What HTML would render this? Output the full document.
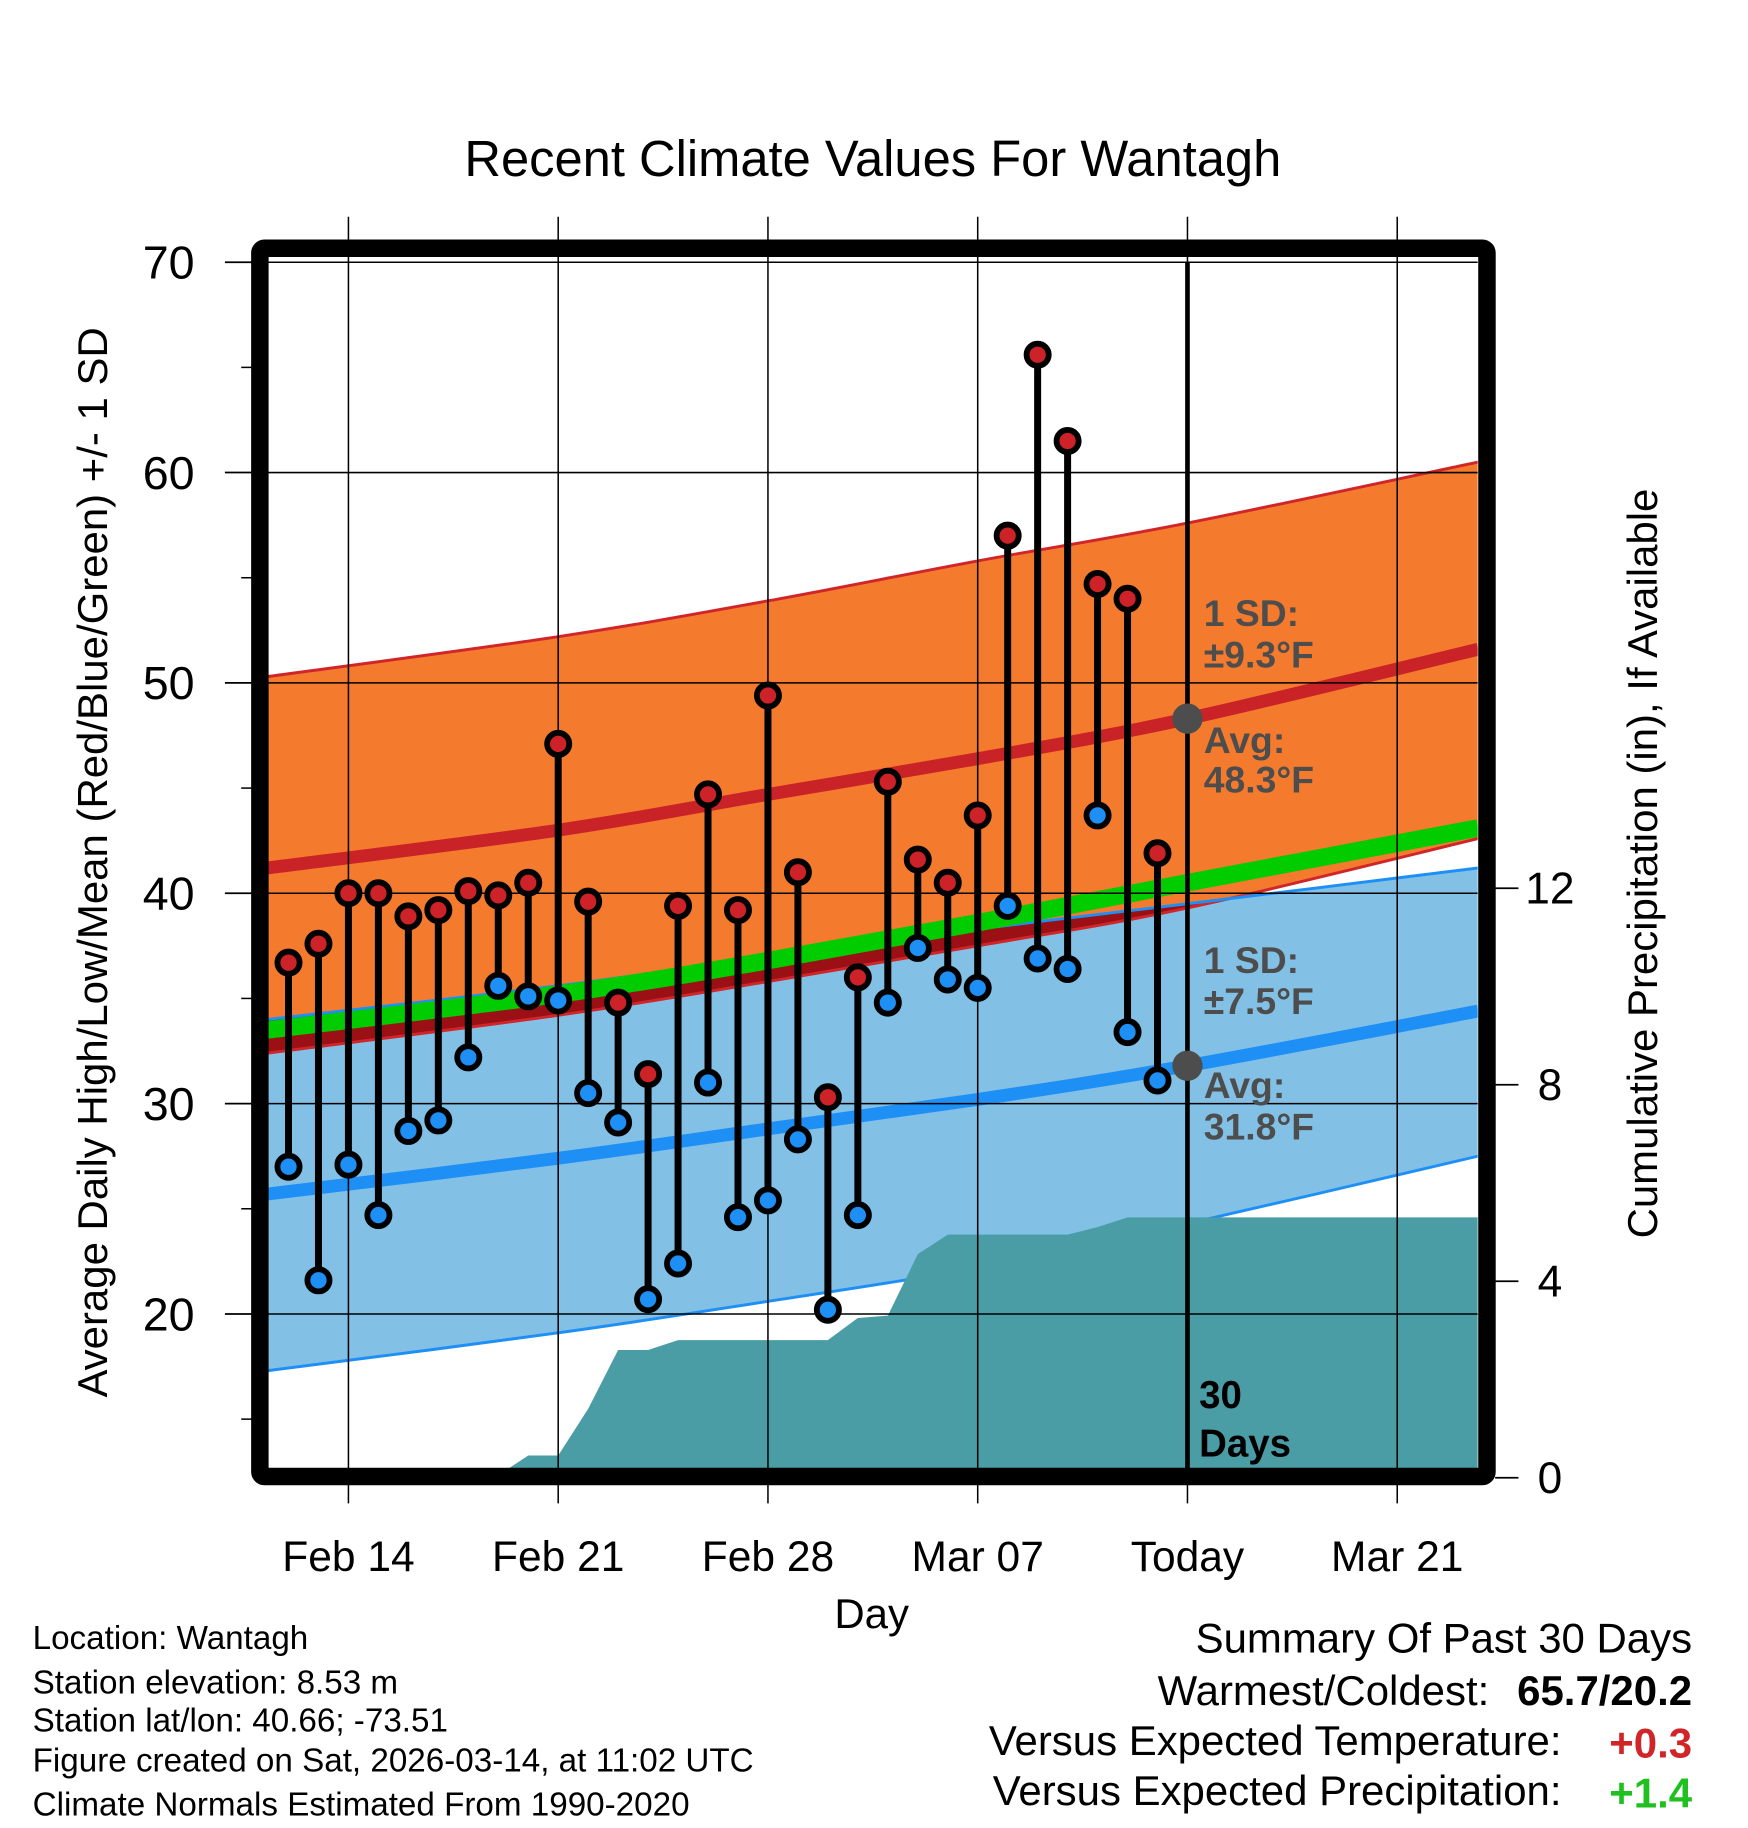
<!DOCTYPE html>
<html><head><meta charset="utf-8"><style>html,body{margin:0;padding:0;background:#fff}svg{display:block}text{font-family:"Liberation Sans",sans-serif}</style></head>
<body>
<svg id="chart" width="1748" height="1828" viewBox="0 0 1500 1568.6" preserveAspectRatio="none" xmlns="http://www.w3.org/2000/svg">
<text x="749" y="151" font-size="43.5" text-anchor="middle">Recent Climate Values For Wantagh</text>
<g id="plot"></g>
<text transform="translate(92,740) rotate(-90)" font-size="36" text-anchor="middle">Average Daily High/Low/Mean (Red/Blue/Green) +/- 1 SD</text>
<text transform="translate(1422,741) rotate(-90)" font-size="36" text-anchor="middle">Cumulative Precipitation (in), If Available</text>
<text x="748" y="1397" font-size="36" text-anchor="middle">Day</text>
<g font-size="28.5">
<text x="28" y="1415">Location: Wantagh</text>
<text x="28" y="1453">Station elevation: 8.53 m</text>
<text x="28" y="1486">Station lat/lon: 40.66; -73.51</text>
<text x="28" y="1520">Figure created on Sat, 2026-03-14, at 11:02 UTC</text>
<text x="28" y="1558">Climate Normals Estimated From 1990-2020</text>
</g>
<g font-size="36" text-anchor="end">
<text x="1452" y="1418">Summary Of Past 30 Days</text>
<text x="1278" y="1463">Warmest/Coldest:</text>
<text x="1452" y="1463" font-weight="bold">65.7/20.2</text>
<text x="1340" y="1506">Versus Expected Temperature:</text>
<text x="1452" y="1508" font-weight="bold" fill="#d0262a">+0.3</text>
<text x="1340" y="1549">Versus Expected Precipitation:</text>
<text x="1452" y="1551" font-weight="bold" fill="#1fc01f">+1.4</text>
</g>
</svg>
<script>
// days counted from Feb 14 (=0); Today = Mar 14 = 28
const obsDays = [-2,-1,0,1,2,3,4,5,6,7,8,9,10,11,12,13,14,15,16,17,18,19,20,21,22,23,24,25,26,27];
const highs = [36.7,37.6,40.0,40.0,38.9,39.2,40.1,39.9,40.5,47.1,39.6,34.8,31.4,39.4,44.7,39.2,49.4,41.0,30.3,36.0,45.3,41.6,40.5,43.7,57.0,65.6,61.5,54.7,54.0,41.9];
const lows = [27.0,21.6,27.1,24.7,28.7,29.2,32.2,35.6,35.1,34.9,30.5,29.1,20.7,22.4,31.0,24.6,25.4,28.3,20.2,24.7,34.8,37.4,35.9,35.5,39.4,36.9,36.4,43.7,33.4,31.1];
const normDays = [-2.7,7,14,21,28,37.7];
const normHigh = [41.2,43.0,44.7,46.4,48.3,51.6];
const normHighUpper = [50.3,52.2,53.9,55.8,57.6,60.5];
const normHighLower = [32.4,34.2,35.8,37.5,39.3,42.6];
const normMean = [33.5,35.2,36.8,38.6,40.5,43.1];
const normLow = [25.7,27.4,28.8,30.2,31.8,34.4];
const normLowUpper = [34.0,35.6,37.0,38.3,39.5,41.2];
const normLowLower = [17.3,19.1,20.6,22.2,24.3,27.5];
const precipDays = [-2.7,-2,-1,0,1,2,3,4,5,6,7,8,9,10,11,12,13,14,15,16,17,18,19,20,21,22,23,24,25,26,27,37.7];
const precip = [0,0,0,0,0,0,0,0.05,0.05,0.45,0.45,1.4,2.6,2.6,2.8,2.8,2.8,2.8,2.8,2.8,3.25,3.3,4.55,4.95,4.95,4.95,4.95,4.95,5.1,5.3,5.3,5.3];
const yTicks = [20,30,40,50,60,70];
const y2Ticks = [0,4,8,12];
const xTickDays = [0,7,14,21,28,35];
const xTickLabels = ["Feb 14","Feb 21","Feb 28","Mar 07","Today","Mar 21"];

const X = d => 299 + d*25.714;
const Y = t => 225 + (70-t)*18.05;
const YP = p => 1268 - p*42.15;
const L = 230, R = 1268, T = 220, B = 1260;
const NS = "http://www.w3.org/2000/svg";
const plot = document.getElementById('plot');
function mk(tag, attrs, parent){const e=document.createElementNS(NS,tag);for(const k in attrs)e.setAttribute(k,attrs[k]);(parent||plot).appendChild(e);return e;}
function curve(xs, vals, start){
  const p = xs.map((d,i)=>[X(d), Y(vals[i])]);
  let s = (start?'L':'M')+p[0][0].toFixed(1)+','+p[0][1].toFixed(1);
  for(let i=0;i<p.length-1;i++){
    const p0=p[Math.max(0,i-1)], p1=p[i], p2=p[i+1], p3=p[Math.min(p.length-1,i+2)];
    const c1=[p1[0]+(p2[0]-p0[0])/6, p1[1]+(p2[1]-p0[1])/6];
    const c2=[p2[0]-(p3[0]-p1[0])/6, p2[1]-(p3[1]-p1[1])/6];
    s+=' C'+c1.map(v=>v.toFixed(1)).join(',')+' '+c2.map(v=>v.toFixed(1)).join(',')+' '+p2[0].toFixed(1)+','+p2[1].toFixed(1);
  }
  return s;
}
function bandPath(up, lo){
  return curve(normDays, up) + ' ' + curve(normDays.slice().reverse(), lo.slice().reverse(), true) + 'Z';
}

const clip = mk('clipPath',{id:'pc'}); mk('rect',{x:L,y:T,width:R-L,height:B-T},clip);
const clip2 = mk('clipPath',{id:'hc'}); mk('path',{d:bandPath(normHighUpper, normHighLower)},clip2);
const g = mk('g',{'clip-path':'url(#pc)'});

{
  const e = mk('path',{d:bandPath(normHighUpper, normHighLower),fill:'#f47a2e'},g);
  
  
  const f = mk('path',{d:bandPath(normLowUpper, normLowLower),fill:'#82c0e6'},g);
  
  
  const o = mk('path',{d:bandPath(normLowUpper, normLowLower),fill:'#9a1015','clip-path':'url(#hc)'},g);
  
  
}
function nline(vals, color, w, name){
  const e = mk('path',{d:curve(normDays, vals),stroke:color,'stroke-width':w,fill:'none'},g);
  
  
}
nline(normHighUpper,'#d0262a',2.5,'high-sd-upper');
nline(normHighLower,'#d0262a',2.5,'high-sd-lower');
nline(normLowUpper,'#1e8ff5',2.5,'low-sd-upper');
nline(normLowLower,'#1e8ff5',2.5,'low-sd-lower');

{
  let d = 'M'+X(precipDays[0])+','+YP(0);
  precipDays.forEach((dd,i)=>{d+=' L'+X(dd).toFixed(1)+','+YP(precip[i]).toFixed(1);});
  d += ' L'+X(precipDays[precipDays.length-1])+','+YP(0)+'Z';
  const e = mk('path',{d:d,fill:'#4a9ca5'},g);
  
  
}
nline(normMean,'#00cc00',15,'mean-normal-line');
nline(normHigh,'#c92227',11,'high-normal-line');
nline(normLow,'#1e8ff5',11,'low-normal-line');

yTicks.forEach(t=>{
  const e = mk('line',{x1:L,x2:R,y1:Y(t),y2:Y(t),stroke:'#000','stroke-width':1.3});
  
  
  const tk = mk('line',{x1:193,x2:216,y1:Y(t),y2:Y(t),stroke:'#000','stroke-width':1.5});
  
  
  const lb = mk('text',{x:167,y:Y(t)+14,'font-size':40,'text-anchor':'end'}); lb.textContent=t;
  
  
});
[15,25,35,45,55,65].forEach(t=>{
  const tk = mk('line',{x1:207,x2:216,y1:Y(t),y2:Y(t),stroke:'#000','stroke-width':1.3});
  
  
});
xTickDays.forEach((d,i)=>{
  const e = mk('line',{x1:X(d),x2:X(d),y1:186,y2:1290,stroke:'#000','stroke-width':1.3});
  
  
  const lb = mk('text',{x:X(d),y:1348,'font-size':36.5,'text-anchor':'middle'}); lb.textContent=xTickLabels[i];
  
  
});
y2Ticks.forEach(p=>{
  const tk = mk('line',{x1:1283,x2:1303,y1:YP(p),y2:YP(p),stroke:'#000','stroke-width':1.5});
  
  
  const lb = mk('text',{x:1330,y:YP(p)+13,'font-size':38,'text-anchor':'middle'}); lb.textContent=p;
  
  
});

{
  const e = mk('line',{x1:X(28),x2:X(28),y1:225,y2:1268,stroke:'#000','stroke-width':4});
  
  
}

obsDays.forEach((d,i)=>{
  const s = mk('line',{x1:X(d),x2:X(d),y1:Y(highs[i]),y2:Y(lows[i]),stroke:'#000','stroke-width':6});
  
  
  const h = mk('circle',{cx:X(d),cy:Y(highs[i]),r:9.5,fill:'#cc2228',stroke:'#000','stroke-width':5});
  
  
  const l = mk('circle',{cx:X(d),cy:Y(lows[i]),r:9.5,fill:'#1e8ff5',stroke:'#000','stroke-width':5});
  
  
});

{
  const a = mk('circle',{cx:X(28),cy:Y(48.3),r:13,fill:'#4d4d4d'});
  
  
  const b = mk('circle',{cx:X(28),cy:Y(31.8),r:13,fill:'#4d4d4d'});
  
  
  const txts = [["1 SD:",537],["±9.3°F",573],["Avg:",646],["48.3°F",680],["1 SD:",835],["±7.5°F",870],["Avg:",942],["31.8°F",978]];
  txts.forEach(t=>{
    const e = mk('text',{x:1033,y:t[1],'font-size':32,'font-weight':'bold',fill:'#4d4d4d'}); e.textContent=t[0];
    
    
  });
  const d1 = mk('text',{x:1029,y:1208,'font-size':33,'font-weight':'bold'}); d1.textContent='30';
  
  
  const d2 = mk('text',{x:1029,y:1250,'font-size':33,'font-weight':'bold'}); d2.textContent='Days';
  
  
}

{
  const f = mk('rect',{x:223,y:213,width:1053,height:1054,fill:'none',stroke:'#000','stroke-width':15,rx:4});
  
  
}
</script>
</body></html>
